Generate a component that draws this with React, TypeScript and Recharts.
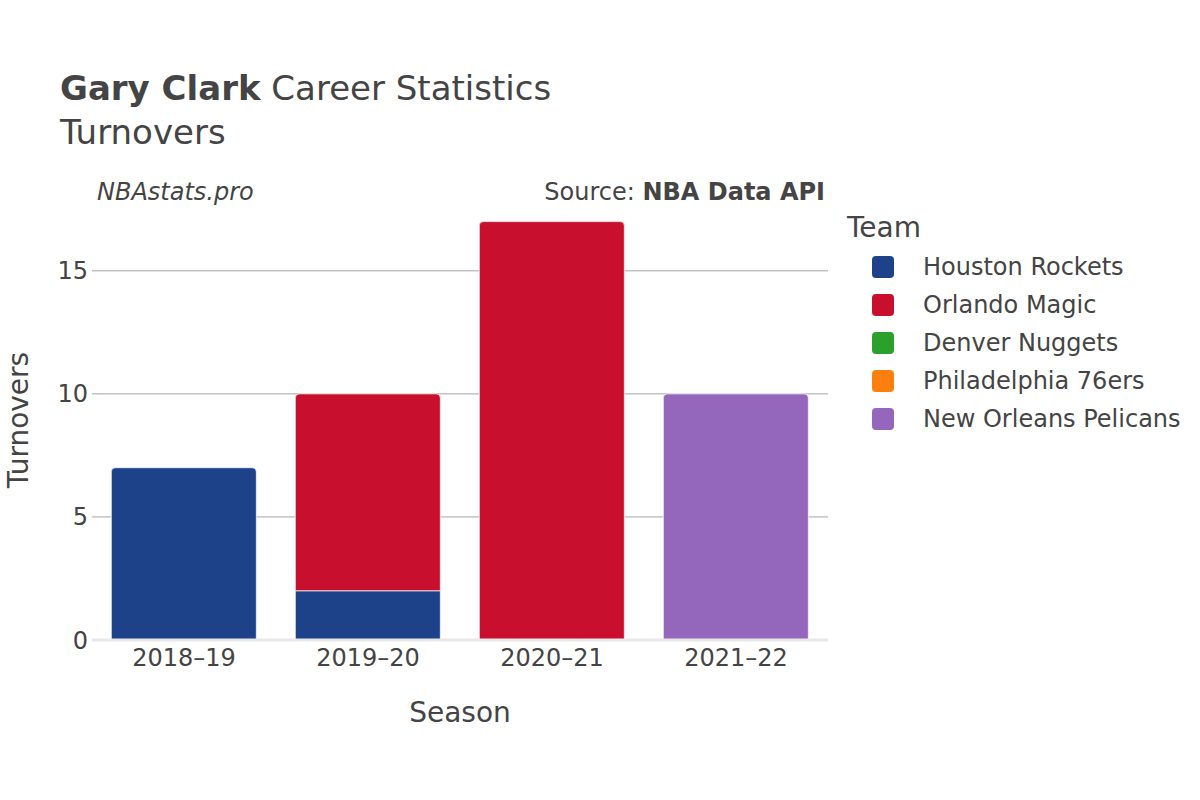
import React from "react";
import { Bar, BarChart, CartesianGrid, ReferenceLine, XAxis, YAxis } from "recharts";

const seasons = ["2018–19", "2019–20", "2020–21", "2021–22"];
const teams = ["Houston Rockets", "Orlando Magic", "Denver Nuggets", "Philadelphia 76ers", "New Orleans Pelicans"];
const teamColors = ["#1d428a", "#c8102e", "#2ca02c", "#ff7f0e", "#9467bd"];
const houstonRockets = [7, 2, 0, 0];
const orlandoMagic = [0, 8, 17, 0];
const denverNuggets = [0, 0, 0, 0];
const philadelphia76ers = [0, 0, 0, 0];
const newOrleansPelicans = [0, 0, 0, 10];
const yTicks = [0, 5, 10, 15];
const yMax = 18;

const teamValues = [houstonRockets, orlandoMagic, denverNuggets, philadelphia76ers, newOrleansPelicans];

const data = seasons.map((season, i) => {
  const row: Record<string, string | number> = { season };
  teams.forEach((team, t) => {
    row[team] = teamValues[t][i];
  });
  return row;
});

const FONT = "'DejaVu Sans', sans-serif";
const TEXT = "#444";

function makeShape(teamIndex: number) {
  return (props: any) => {
    const { x, y, width, height, fill, payload } = props;
    if (!height || height <= 0) return <g />;
    const isTop = teams.slice(teamIndex + 1).every((t) => !payload[t]);
    const r = isTop ? Math.min(4, height / 2) : 0;
    const d = `M${x},${y + height} L${x},${y + r} Q${x},${y} ${x + r},${y} L${x + width - r},${y} Q${x + width},${y} ${x + width},${y + r} L${x + width},${y + height} Z`;
    return <path d={d} fill={fill} stroke="#fff" strokeWidth={0.7} />;
  };
}

// grid lines only at the labelled ticks above zero
const gridRows = ({ offset }: any) =>
  yTicks.slice(1).map((v) => offset.top + offset.height * (1 - v / yMax));

export default function App() {
  return (
    <div style={{ position: "absolute", left: 0, top: 0, width: 1200, height: 800, background: "#fff", fontFamily: FONT, color: TEXT }}>
      <BarChart
        width={1200}
        height={800}
        data={data}
        margin={{ top: 197, right: 372, bottom: 130, left: 32 }}
        barCategoryGap="10.5%"
      >
        <CartesianGrid vertical={false} stroke="#a4a4a4" strokeWidth={1} horizontalCoordinatesGenerator={gridRows} />
        <XAxis
          dataKey="season"
          height={30}
          tickLine={false}
          axisLine={false}
          tickSize={0}
          tickMargin={9}
          tick={{ fill: TEXT, fontSize: 24, fontFamily: FONT }}
        />
        <YAxis
          width={60}
          domain={[0, yMax]}
          ticks={yTicks}
          tickLine={false}
          axisLine={false}
          tickSize={0}
          tickMargin={4}
          tick={{ fill: TEXT, fontSize: 24, fontFamily: FONT }}
        />
        {teams.map((team, t) => (
          <Bar
            key={team}
            dataKey={team}
            stackId="a"
            fill={teamColors[t]}
            shape={makeShape(t)}
            isAnimationActive={false}
          />
        ))}
        <ReferenceLine y={0} stroke="#e8e8e8" strokeWidth={3} />
      </BarChart>

      <div style={{ position: "absolute", left: 60, top: 68, fontSize: 34, whiteSpace: "nowrap" }}>
        <b>Gary Clark</b> Career Statistics
      </div>
      <div style={{ position: "absolute", left: 60, top: 112, fontSize: 34 }}>Turnovers</div>
      <div style={{ position: "absolute", left: 97, top: 178, fontSize: 24, fontStyle: "italic" }}>NBAstats.pro</div>
      <div style={{ position: "absolute", right: 1200 - 825, top: 178, fontSize: 24, whiteSpace: "nowrap" }}>
        Source: <b>NBA Data API</b>
      </div>
      <div
        style={{
          position: "absolute",
          left: 18,
          top: 420,
          fontSize: 28,
          whiteSpace: "nowrap",
          transform: "translate(-50%, -50%) rotate(-90deg)",
        }}
      >
        Turnovers
      </div>
      <div style={{ position: "absolute", left: 460, top: 712, fontSize: 28, transform: "translate(-50%, -50%)" }}>
        Season
      </div>

      <div style={{ position: "absolute", left: 847, top: 211, fontSize: 28 }}>Team</div>
      {teams.map((team, t) => (
        <div key={team} style={{ position: "absolute", left: 872, top: 267 + t * 38 - 14, height: 28, display: "flex", alignItems: "center" }}>
          <div style={{ width: 22, height: 22, borderRadius: 4, background: teamColors[t] }} />
          <span style={{ marginLeft: 29, fontSize: 24, whiteSpace: "nowrap" }}>{team}</span>
        </div>
      ))}
    </div>
  );
}
